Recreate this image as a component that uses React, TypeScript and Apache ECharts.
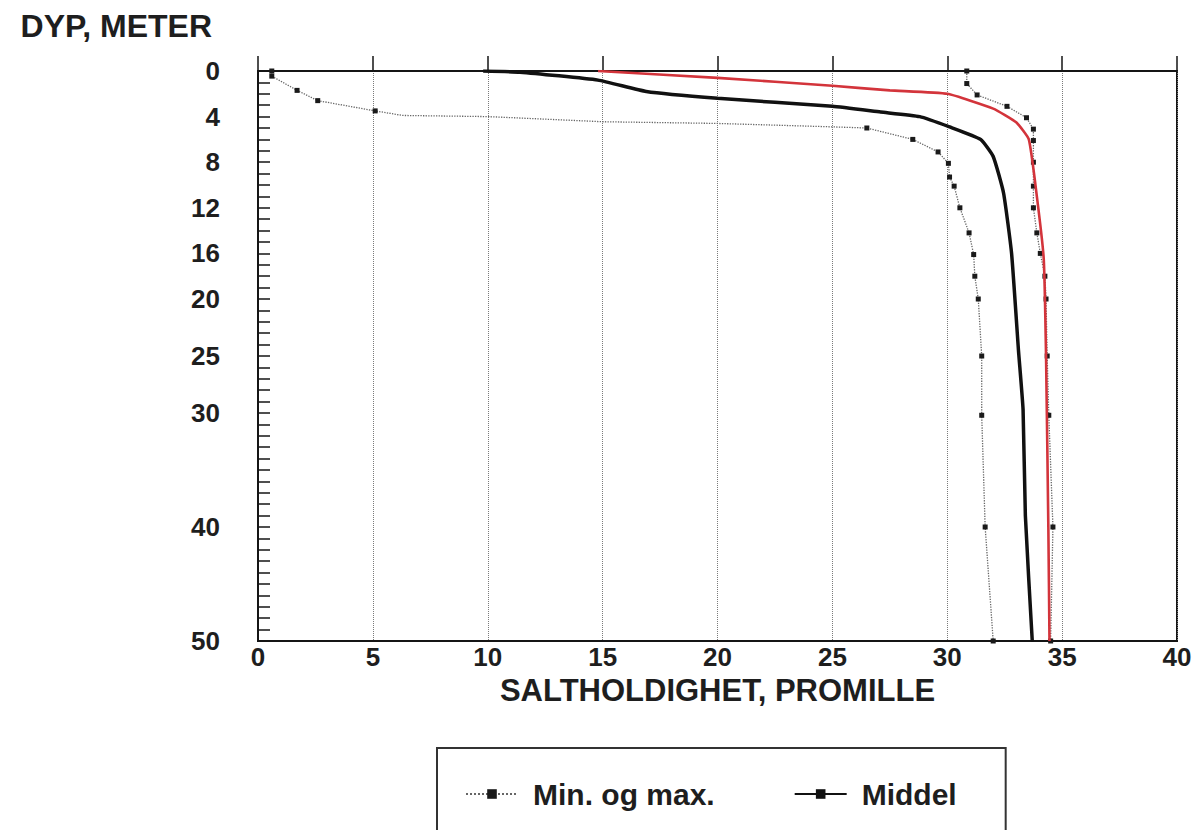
import React, { useEffect, useRef } from "react";
import * as echarts from "echarts";

// Salinity (promille) vs depth (meter) profiles
const depthTickLabels = [0, 4, 8, 12, 16, 20, 25, 30, 40, 50];

const minProfile: [number, number][] = [
  [0.6, 0], [0.6, 0.45], [1.7, 1.7], [2.6, 2.6], [5.1, 3.5], [6.3, 3.9],
  [10.0, 4.0], [15.0, 4.45], [20.0, 4.6], [25.0, 4.9], [26.5, 5.0],
  [28.5, 6.0], [29.6, 7.1], [30.05, 8.1], [30.1, 9.3], [30.3, 10.1],
  [30.55, 12.0], [30.95, 14.2], [31.15, 16.1], [31.2, 18.0], [31.35, 20.0],
  [31.5, 25.0], [31.5, 30.2], [31.65, 40.0], [32.0, 50.0],
];

const maxProfile: [number, number][] = [
  [30.85, 0], [30.85, 1.1], [31.3, 2.1], [32.6, 3.1], [33.45, 4.1],
  [33.75, 5.1], [33.75, 6.1], [33.75, 8.0], [33.75, 10.1], [33.75, 12.0],
  [33.9, 14.2], [34.05, 16.0], [34.25, 18.0], [34.3, 20.0], [34.35, 25.0],
  [34.42, 30.2], [34.6, 40.0], [34.5, 50.0],
];

const meanProfile: [number, number][] = [
  [9.8, 0], [11.4, 0.1], [14.8, 0.8], [16.9, 1.8], [20.0, 2.4], [25.0, 3.1],
  [27.1, 3.6], [28.8, 4.0], [30.1, 4.9], [31.45, 6.0], [32.0, 7.5],
  [32.45, 10.7], [32.8, 16.0], [33.1, 24.5], [33.3, 29.7], [33.4, 39.0],
  [33.7, 50.0],
];

const redProfile: [number, number][] = [
  [14.8, 0], [20.0, 0.6], [25.0, 1.3], [27.5, 1.7], [30.0, 2.0], [32.0, 3.3],
  [33.0, 4.5], [33.55, 6.0], [33.9, 11.0], [34.2, 16.5], [34.3, 25.0],
  [34.4, 40.0], [34.45, 50.0],
];

const FONT = '"Liberation Sans", Arial, Helvetica, sans-serif';
const TXT = "#1e1e1e";

export default function App() {
  const ref = useRef<HTMLDivElement>(null);
  useEffect(() => {
    if (!ref.current) return;
    const chart = echarts.init(ref.current, null, { renderer: "svg" });
    const dotted = {
      type: "line" as const,
      name: "Min. og max.",
      symbol: "rect",
      itemStyle: { color: "#1a1a1a" },
      lineStyle: { color: "#666", width: 1.3, type: "dotted" as const },
      z: 3,
    };
    chart.setOption({
      animation: false,
      backgroundColor: "#ffffff",
      textStyle: { fontFamily: FONT },
      grid: {
        left: 258,
        top: 71,
        width: 919,
        height: 570,
        show: true,
        borderColor: "#151515",
        borderWidth: 2,
        containLabel: false,
      },
      legend: {
        data: ["Min. og max.", "Middel"],
        left: 437,
        top: 748,
        orient: "horizontal",
        padding: [31, 49, 45, 28],
        itemGap: 79,
        itemWidth: 52,
        itemHeight: 12,
        borderColor: "#333",
        borderWidth: 2,
        textStyle: {
          fontFamily: FONT,
          fontWeight: "bold",
          fontSize: 30,
          color: TXT,
          padding: [0, 0, 0, 10],
        },
      },
      xAxis: {
        type: "value",
        min: 0,
        max: 40,
        interval: 5,
        name: "SALTHOLDIGHET, PROMILLE",
        nameLocation: "middle",
        nameGap: 34,
        nameTextStyle: { fontFamily: FONT, fontWeight: "bold", fontSize: 31, color: TXT },
        axisLine: { show: true, lineStyle: { color: "#151515", width: 2 } },
        axisTick: { show: true, inside: true, length: 15, lineStyle: { color: "#151515", width: 1.5 } },
        axisLabel: { margin: 3, fontFamily: FONT, fontWeight: "bold", fontSize: 26, color: TXT },
        splitLine: { show: true, lineStyle: { color: "#7a7a7a", width: 1, type: "dotted" } },
      },
      yAxis: {
        type: "value",
        inverse: true,
        min: 0,
        max: 50,
        interval: 1,
        name: "DYP, METER",
        nameLocation: "start",
        nameGap: 29,
        nameTextStyle: {
          fontFamily: FONT,
          fontWeight: "bold",
          fontSize: 32,
          color: TXT,
          align: "right",
          padding: [0, 46, 0, 0],
        },
        axisLine: { show: true, lineStyle: { color: "#151515", width: 2 } },
        axisTick: { show: true, inside: true, length: 12, lineStyle: { color: "#151515", width: 1.5 } },
        axisLabel: {
          margin: 38,
          fontFamily: FONT,
          fontWeight: "bold",
          fontSize: 26,
          color: TXT,
          formatter: (v: number) => (depthTickLabels.includes(v) ? String(v) : ""),
        },
        splitLine: { show: false },
      },
      series: [
        {
          ...dotted,
          data: minProfile,
          symbolSize: (v: number[]) => (v[0] > 6 && v[0] < 26 ? 0 : 5),
        },
        { ...dotted, data: maxProfile, symbolSize: 5 },
        {
          type: "line",
          name: "Middel",
          data: meanProfile,
          symbol: "rect",
          symbolSize: 2,
          smooth: 0.15,
          itemStyle: { color: "#111" },
          lineStyle: { color: "#111", width: 3.5 },
          z: 4,
        },
        {
          type: "line",
          name: "Rød profil",
          data: redProfile,
          showSymbol: false,
          symbol: "none",
          smooth: 0.15,
          lineStyle: { color: "#d3343b", width: 2.6 },
          z: 5,
        },
      ],
    });
    return () => chart.dispose();
  }, []);
  return (
    <div
      ref={ref}
      style={{ position: "fixed", left: 0, top: 0, width: 1203, height: 830, background: "#fff" }}
    />
  );
}
